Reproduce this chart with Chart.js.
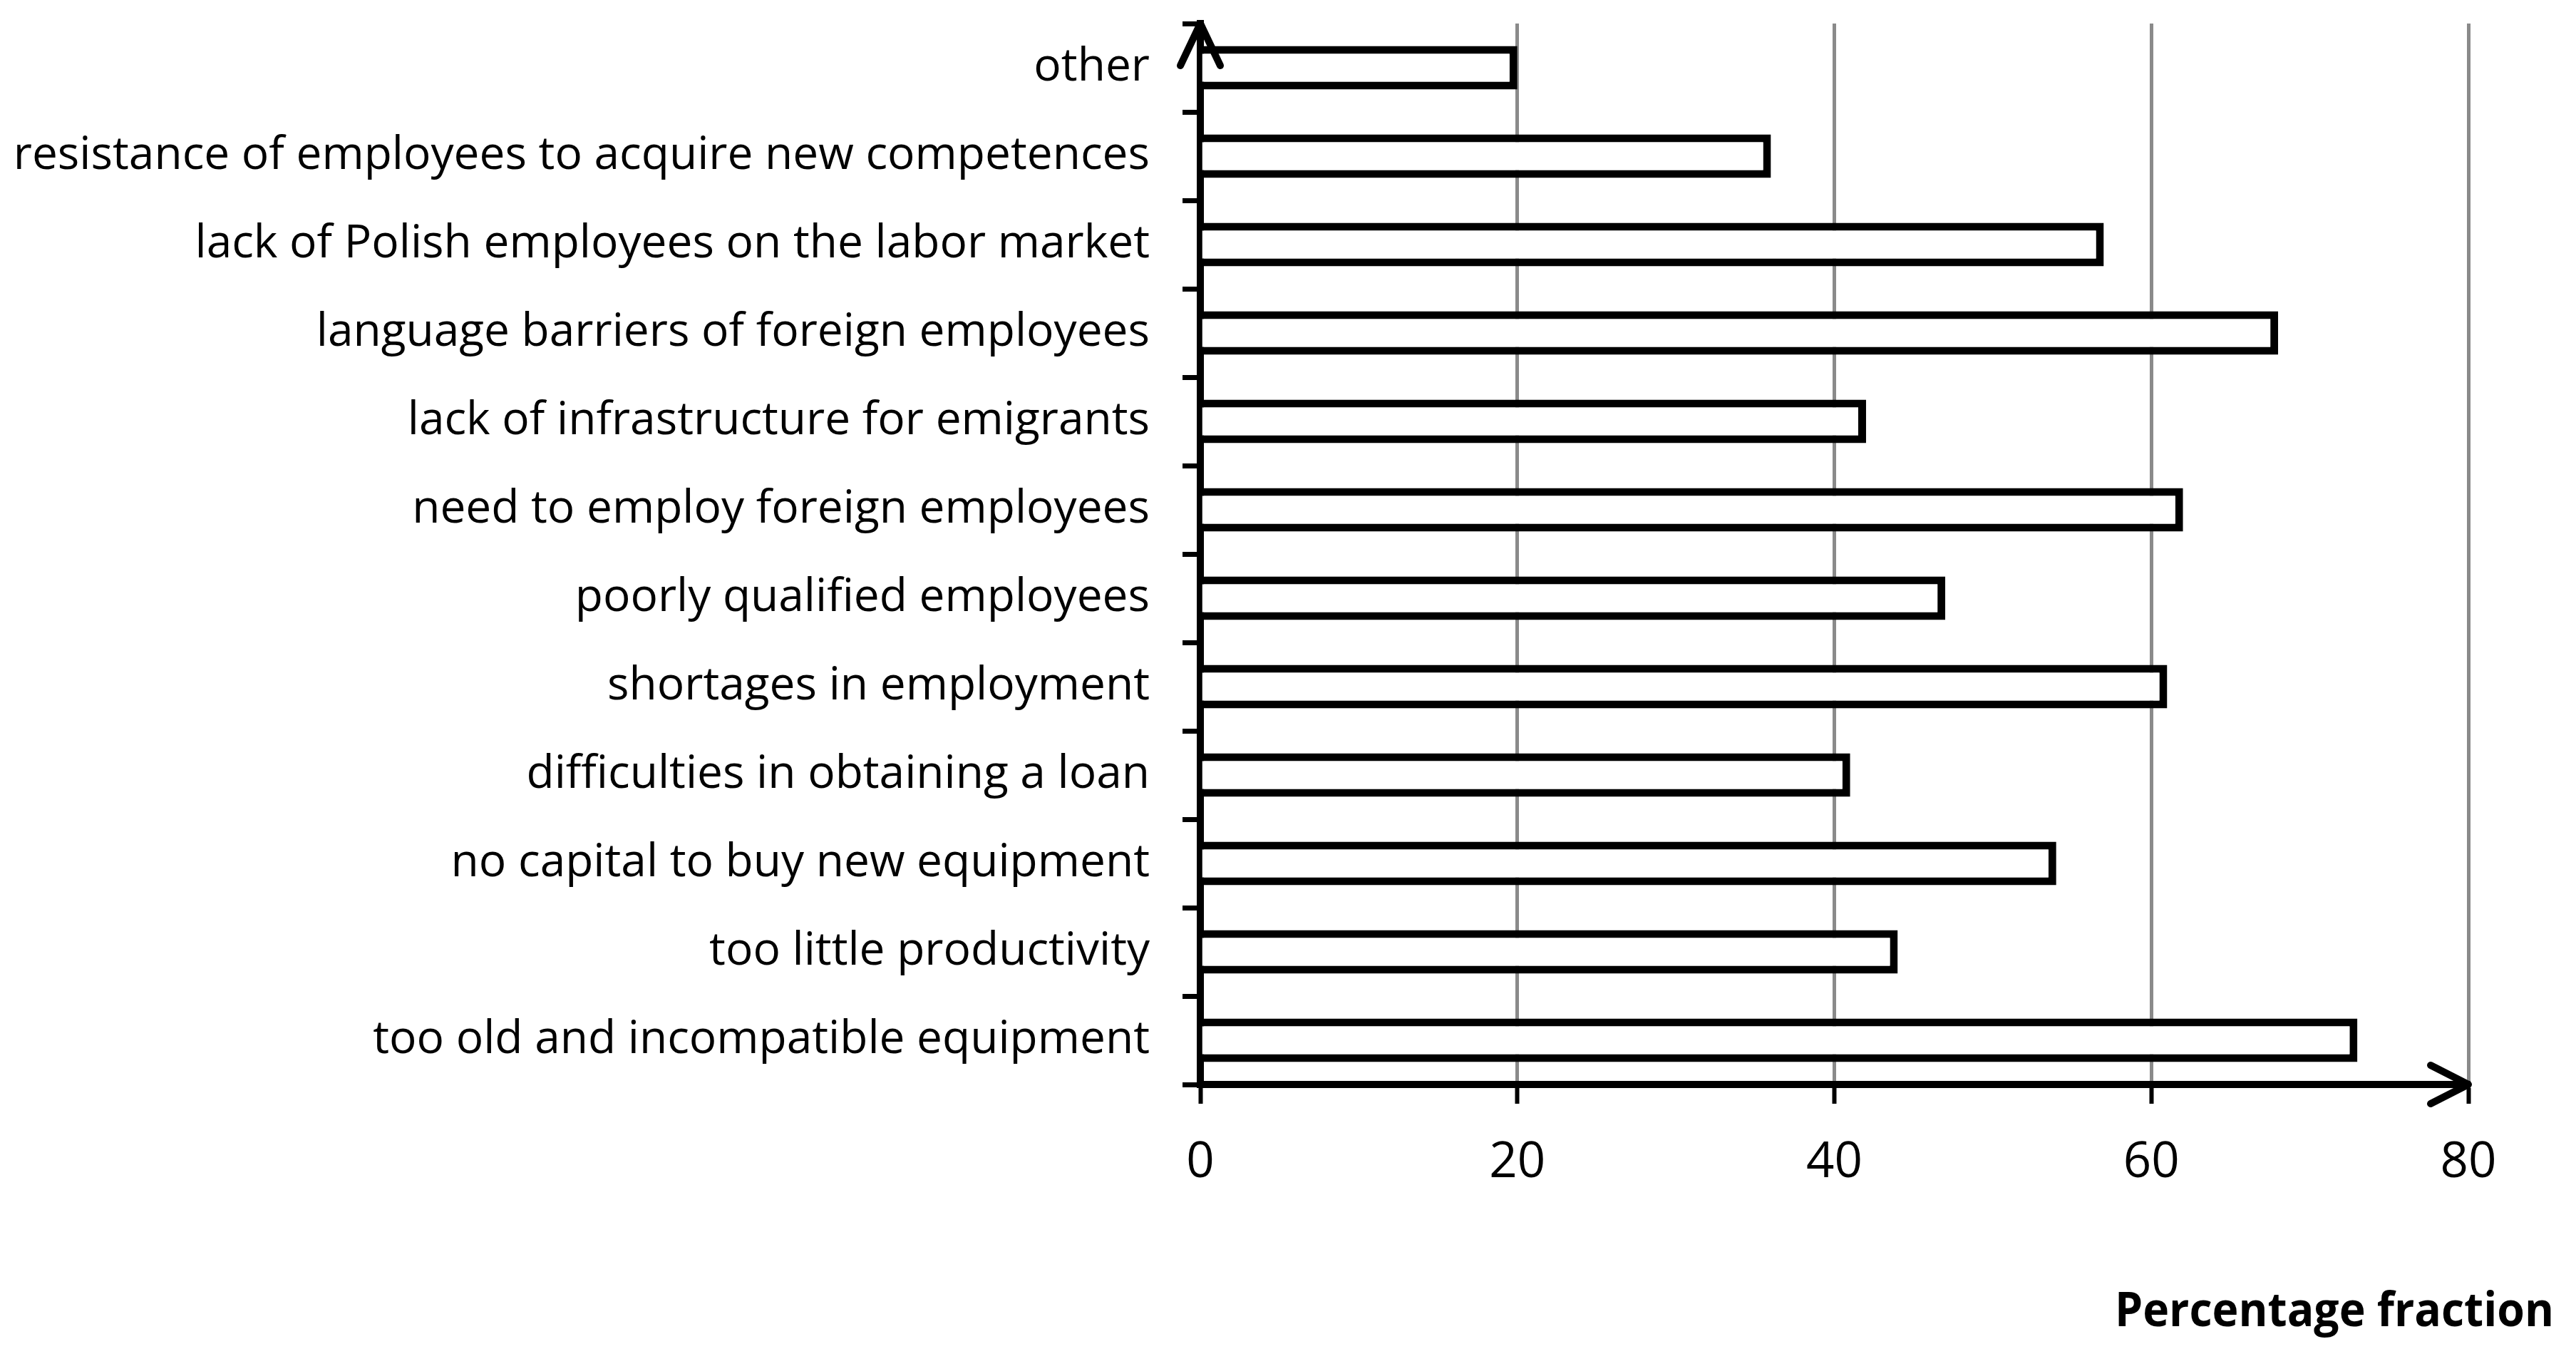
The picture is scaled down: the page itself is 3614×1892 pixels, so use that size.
<!DOCTYPE html>
<html lang="en">
<head>
<meta charset="utf-8"/>
<title>Percentage fraction chart</title>
<script src="https://cdn.jsdelivr.net/npm/chart.js"></script>
<style>
  html, body { margin: 0; padding: 0; background: #fff; }
  canvas { display: block; }
</style>
</head>
<body>
<canvas id="chart" width="3614" height="1892"></canvas>
<script>
  // categories, top to bottom
  const categories = [
    "other",
    "resistance of employees to acquire new competences",
    "lack of Polish employees on the labor market",
    "language barriers of foreign employees",
    "lack of infrastructure for emigrants",
    "need to employ foreign employees",
    "poorly qualified employees",
    "shortages in employment",
    "difficulties in obtaining a loan",
    "no capital to buy new equipment",
    "too little productivity",
    "too old and incompatible equipment"
  ];
  const fractions = [20, 36, 57, 68, 42, 62, 47, 61, 41, 54, 44, 73];
  const xTicks = [0, 20, 40, 60, 80];
  const axisTitle = "Percentage fraction";

  // arrow heads on both axes + the bold axis title
  const axisDecor = {
    id: 'axisDecor',
    afterDraw(chart) {
      const ctx = chart.ctx;
      const area = chart.chartArea;
      const x0 = chart.scales.x.getPixelForValue(xTicks[0]);
      const xEnd = chart.scales.x.getPixelForValue(xTicks[xTicks.length - 1]);
      ctx.save();
      ctx.strokeStyle = '#000';
      ctx.lineWidth = 10;
      ctx.lineCap = 'round';
      ctx.lineJoin = 'round';
      ctx.beginPath();
      ctx.moveTo(x0 - 28, area.top + 59);
      ctx.lineTo(x0, area.top);
      ctx.lineTo(x0 + 28, area.top + 59);
      ctx.stroke();
      ctx.beginPath();
      ctx.moveTo(xEnd - 53, area.bottom - 27);
      ctx.lineTo(xEnd, area.bottom);
      ctx.lineTo(xEnd - 53, area.bottom + 27);
      ctx.stroke();

      ctx.fillStyle = '#000';
      ctx.font = 'bold 66px "Open Sans"';
      ctx.textAlign = 'right';
      ctx.textBaseline = 'alphabetic';
      ctx.fillText(axisTitle, chart.width - 31, chart.height - 32, 616);
      ctx.restore();
    }
  };

  new Chart(document.getElementById('chart'), {
    type: 'bar',
    data: {
      labels: categories,
      datasets: [{
        data: fractions,
        backgroundColor: '#ffffff',
        borderColor: '#000000',
        borderWidth: 11,
        categoryPercentage: 0.5,
        barPercentage: 0.98
      }]
    },
    options: {
      indexAxis: 'y',
      responsive: false,
      animation: false,
      devicePixelRatio: 1,
      layout: { padding: { top: 33, right: 151, left: 0, bottom: 0 } },
      plugins: {
        legend: { display: false },
        tooltip: { enabled: false }
      },
      scales: {
        x: {
          min: 0,
          max: 80,
          afterFit(scale) { scale.height = 371; },
          afterBuildTicks(scale) { scale.ticks = xTicks.map(v => ({ value: v })); },
          grid: {
            color: '#8a8a8a',
            lineWidth: 5,
            tickColor: '#000',
            tickWidth: 6,
            tickLength: 27
          },
          border: { color: '#000', width: 10 },
          ticks: {
            color: '#000',
            maxRotation: 0,
            padding: 42,
            font: { family: '"Open Sans"', size: 69 }
          }
        },
        y: {
          z: 1,
          afterFit(scale) {
            scale.width = 1684;
            scale.paddingTop = 0;
            scale.paddingBottom = 0;
          },
          grid: {
            drawOnChartArea: false,
            offset: true,
            tickColor: '#000',
            tickWidth: 7,
            tickLength: 25
          },
          border: { color: '#000', width: 10 },
          ticks: {
            color: '#000',
            autoSkip: false,
            padding: 46,
            font: { family: '"Open Sans"', size: 64 }
          }
        }
      }
    },
    plugins: [axisDecor]
  });
</script>
</body>
</html>
